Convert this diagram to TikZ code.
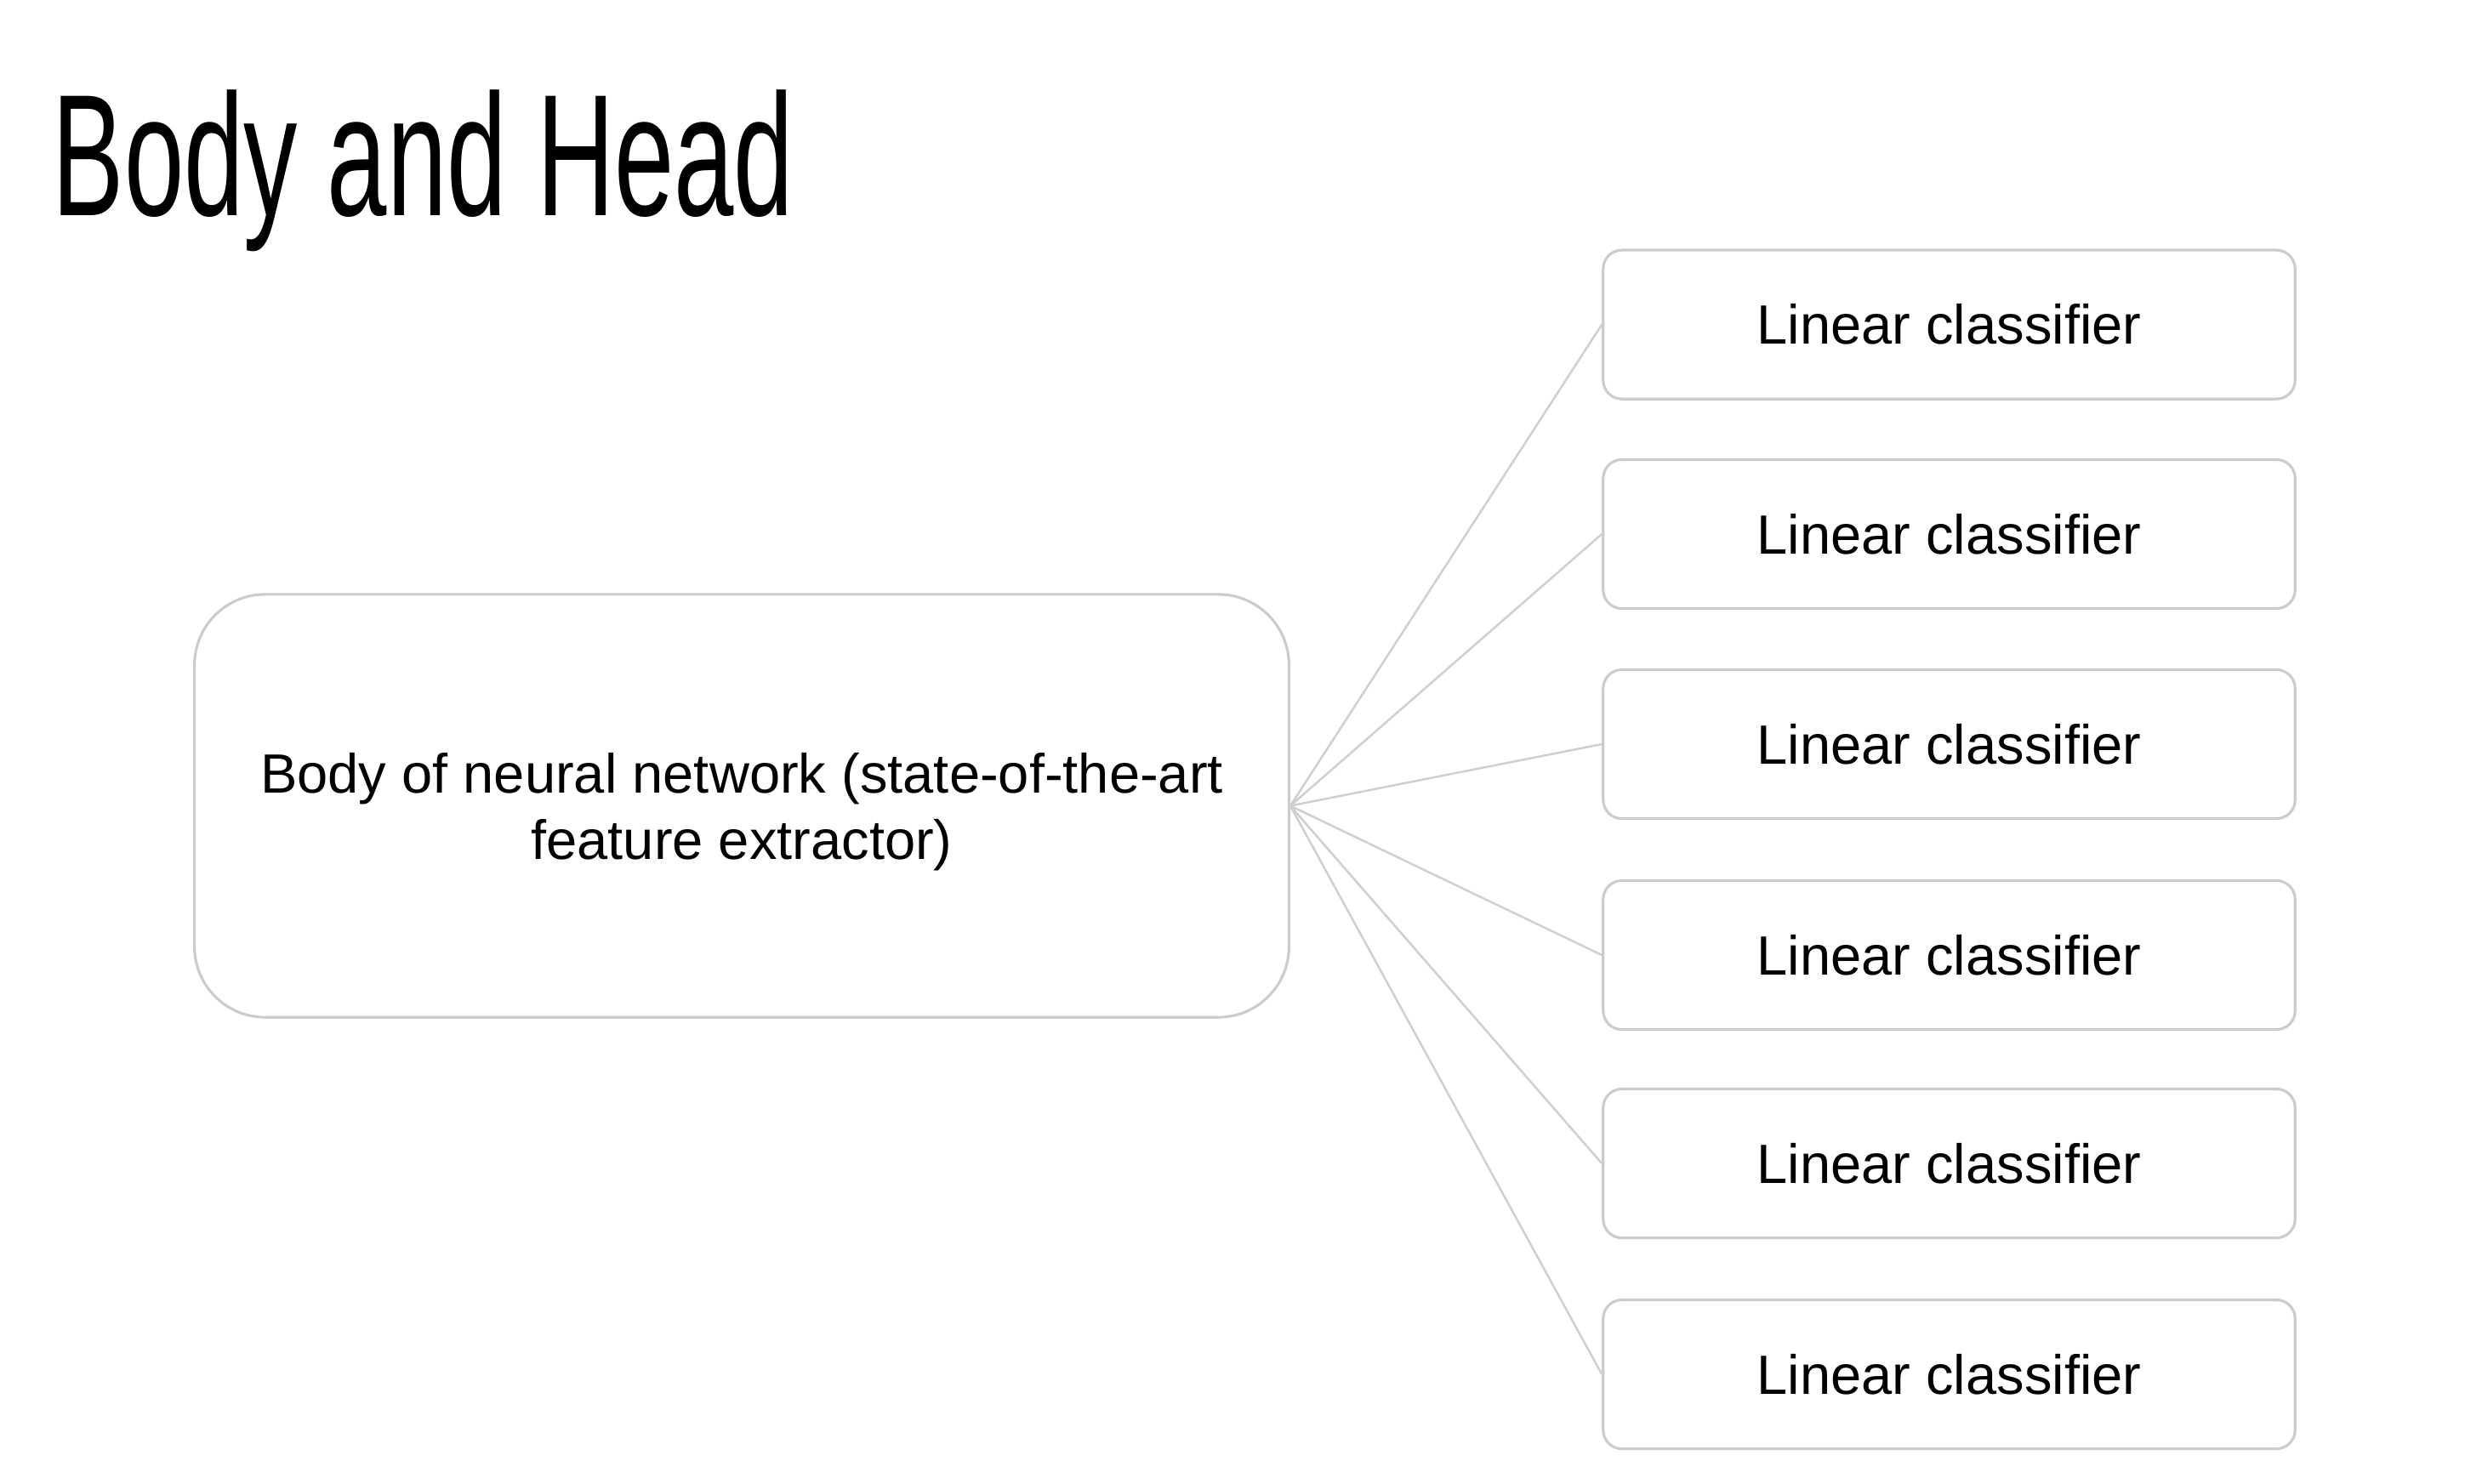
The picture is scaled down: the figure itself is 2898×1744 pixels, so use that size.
\documentclass[tikz,border=0pt]{standalone}
\usepackage{fontspec}
\setmainfont{Liberation Sans}
\begin{document}
\begin{tikzpicture}[x={(0.01cm,0)},y={(0,-0.01cm)},
  box/.style={draw=black!20, line width=0.9pt, fill=white, inner sep=0pt,
    font=\fontsize{18.5}{22}\selectfont, align=center},
  bodybox/.style={box, minimum width=12.86cm, minimum height=4.97cm, rounded corners=0.83cm},
  clsbox/.style={box, minimum width=8.13cm, minimum height=1.75cm, rounded corners=0.22cm},
  link/.style={draw=black!19, line width=0.7pt}]
\useasboundingbox[fill=white] (0,0) rectangle (2898,1744);
\node[anchor=base west, inner sep=0pt, font=\fontsize{58}{60}\selectfont] (title) at (61,253) {\scalebox{0.62}[1]{Body and Head}};
\node[bodybox, label={[font=\fontsize{18.5}{22}\selectfont, align=center, yshift=-0.07cm]center:Body of neural network (state-of-the-art\\feature extractor)}] (body) at (872,947.5) {};
\foreach \i/\y in {1/381.6,2/628,3/875,4/1123,5/1368,6/1616} {
  \node[clsbox] (c\i) at (2291.5,\y) {Linear classifier};
}
\foreach \i in {1,...,6} {
  \draw[link] (body.east) -- (c\i.west);
}
\end{tikzpicture}
\end{document}
